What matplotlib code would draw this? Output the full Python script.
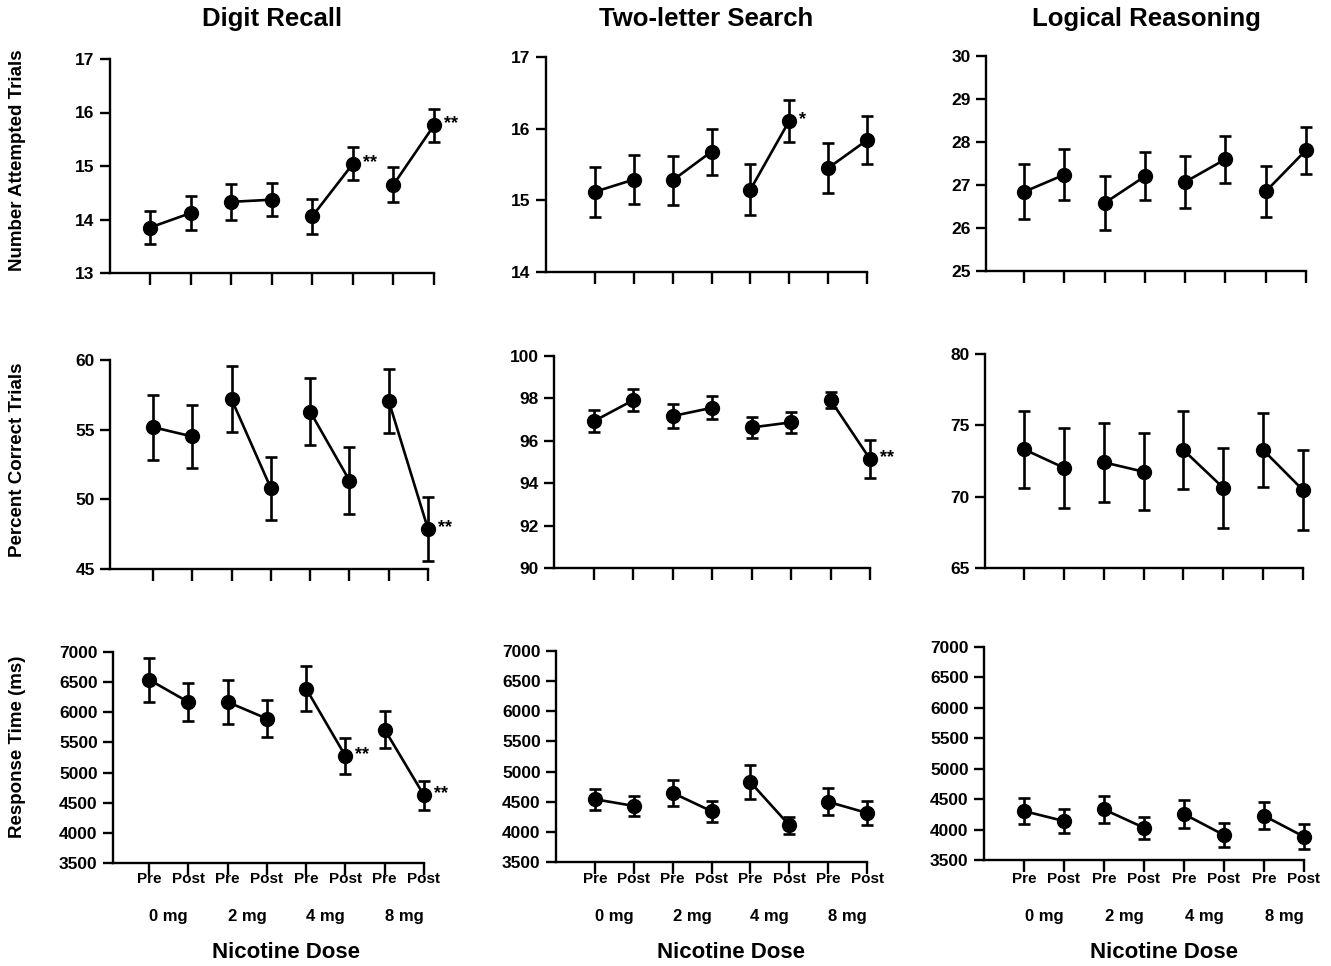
import matplotlib
matplotlib.use("Agg")
import matplotlib.pyplot as plt
from matplotlib.transforms import blended_transform_factory

plt.rcParams['font.family'] = ['Liberation Sans', 'DejaVu Sans']
plt.rcParams['font.weight'] = 'bold'

# ---------------- data ----------------
tasks = ['Digit Recall', 'Two-letter Search', 'Logical Reasoning']
measures = ['Number Attempted Trials', 'Percent Correct Trials', 'Response Time (ms)']
phases = ['Pre', 'Post', 'Pre', 'Post', 'Pre', 'Post', 'Pre', 'Post']
doses = ['0 mg', '2 mg', '4 mg', '8 mg']

dr_att_mean = [13.85, 14.12, 14.33, 14.37, 14.06, 15.04, 14.65, 15.76]
dr_att_err = [0.31, 0.32, 0.33, 0.31, 0.33, 0.31, 0.33, 0.31]
dr_att_sig = ['', '', '', '', '', '**', '', '**']
tl_att_mean = [15.12, 15.29, 15.28, 15.68, 15.15, 16.11, 15.45, 15.84]
tl_att_err = [0.35, 0.34, 0.34, 0.32, 0.36, 0.29, 0.35, 0.33]
tl_att_sig = ['', '', '', '', '', '*', '', '']
lr_att_mean = [26.84, 27.24, 26.58, 27.20, 27.07, 27.60, 26.85, 27.81]
lr_att_err = [0.64, 0.60, 0.62, 0.56, 0.60, 0.55, 0.60, 0.55]
lr_att_sig = ['', '', '', '', '', '', '', '']

dr_pct_mean = [55.18, 54.51, 57.18, 50.80, 56.30, 51.35, 57.06, 47.87]
dr_pct_err = [2.33, 2.27, 2.37, 2.27, 2.42, 2.40, 2.27, 2.30]
dr_pct_sig = ['', '', '', '', '', '', '', '**']
tl_pct_mean = [96.93, 97.92, 97.17, 97.56, 96.63, 96.87, 97.92, 95.14]
tl_pct_err = [0.53, 0.50, 0.55, 0.55, 0.48, 0.50, 0.37, 0.88]
tl_pct_sig = ['', '', '', '', '', '', '', '**']
lr_pct_mean = [73.32, 72.03, 72.41, 71.75, 73.27, 70.62, 73.27, 70.46]
lr_pct_err = [2.70, 2.80, 2.75, 2.70, 2.75, 2.80, 2.60, 2.80]
lr_pct_sig = ['', '', '', '', '', '', '', '']

dr_rt_mean = [6541, 6171, 6171, 5894, 6392, 5275, 5712, 4622]
dr_rt_err = [367, 318, 367, 310, 373, 300, 312, 243]
dr_rt_sig = ['', '', '', '', '', '**', '', '**']
tl_rt_mean = [4541, 4430, 4646, 4342, 4824, 4110, 4498, 4314]
tl_rt_err = [175, 166, 213, 172, 282, 144, 222, 205]
tl_rt_sig = ['', '', '', '', '', '', '', '']
lr_rt_mean = [4304, 4140, 4331, 4030, 4255, 3910, 4227, 3883]
lr_rt_err = [210, 197, 216, 183, 227, 200, 222, 205]
lr_rt_sig = ['', '', '', '', '', '', '', '']

att_ticks = [[13, 14, 15, 16, 17], [14, 15, 16, 17], [25, 26, 27, 28, 29, 30]]
pct_ticks = [[45, 50, 55, 60], [90, 92, 94, 96, 98, 100], [65, 70, 75, 80]]
rt_ticks = [3500, 4000, 4500, 5000, 5500, 6000, 6500, 7000]

panels = [
    [(dr_att_mean, dr_att_err, dr_att_sig, att_ticks[0]),
     (tl_att_mean, tl_att_err, tl_att_sig, att_ticks[1]),
     (lr_att_mean, lr_att_err, lr_att_sig, att_ticks[2])],
    [(dr_pct_mean, dr_pct_err, dr_pct_sig, pct_ticks[0]),
     (tl_pct_mean, tl_pct_err, tl_pct_sig, pct_ticks[1]),
     (lr_pct_mean, lr_pct_err, lr_pct_sig, pct_ticks[2])],
    [(dr_rt_mean, dr_rt_err, dr_rt_sig, rt_ticks),
     (tl_rt_mean, tl_rt_err, tl_rt_sig, rt_ticks),
     (lr_rt_mean, lr_rt_err, lr_rt_sig, rt_ticks)],
]

# ---------------- layout (pixels) ----------------
W, H = 1331, 966
# left spine, first tick, last tick, top, bottom
boxes = [
    [(110, 150, 434, 59, 273), (546, 595, 867, 57, 272), (986, 1024, 1306, 56, 271)],
    [(110, 153, 428, 360, 569), (554, 594, 870, 356, 568), (985, 1024, 1303, 354, 568)],
    [(113, 149, 424, 652, 863), (556, 595, 867, 651, 862), (984, 1024, 1304, 647, 860)],
]

fig = plt.figure(figsize=(W / 100, H / 100), dpi=100)
xpos = list(range(1, 9))
lw = 1.9

for r in range(3):
    for c in range(3):
        L, f, last, T, B = boxes[r][c]
        ax = fig.add_axes([L / W, 1 - B / H, (last - L) / W, (B - T) / H])
        mean, err, sig, ticks = panels[r][c]
        spacing = (last - f) / 7.0
        x0 = 1 - (f - L) / spacing
        eb = ax.errorbar(xpos, mean, yerr=err, fmt='none', ecolor='black',
                         elinewidth=lw, capsize=4.3, capthick=lw, zorder=2)
        for art in eb.lines[1] + eb.lines[2]:
            art.set_clip_on(False)
        for i in range(0, 8, 2):
            ax.plot(xpos[i:i + 2], mean[i:i + 2], color='black', lw=lw,
                    zorder=3, clip_on=False)
        ax.plot(xpos, mean, 'o', color='black', markersize=10, zorder=4,
                clip_on=False)
        for i, s in enumerate(sig):
            if s:
                ax.annotate(s, (xpos[i], mean[i]), xytext=(7, 1),
                            textcoords='offset points', ha='left', va='center',
                            fontsize=13, fontweight='bold')
        ax.set_xlim(x0, 8)
        ax.set_ylim(ticks[0], ticks[-1])
        ax.set_yticks(ticks)
        ax.set_yticklabels([str(t) for t in ticks], fontsize=12.5, fontweight='bold')
        ax.set_xticks(xpos)
        ax.set_xticklabels([])
        for side in ['top', 'right']:
            ax.spines[side].set_visible(False)
        for side in ['left', 'bottom']:
            ax.spines[side].set_linewidth(1.7)
        ax.tick_params(axis='x', direction='out', length=8.5, width=1.7)
        ax.tick_params(axis='y', direction='out', length=7, width=1.7, pad=4)
        ax.patch.set_visible(False)

        if r == 0:
            fig.text((L + last) / 2 / W, 1 - 19 / H, tasks[c], ha='center',
                     va='center', fontsize=18.5, fontweight='bold')
        if r == 2:
            tr = blended_transform_factory(ax.transData, fig.transFigure)
            for i, p in enumerate(phases):
                ax.text(xpos[i], 1 - 879 / H, p, transform=tr, ha='center',
                        va='center', fontsize=11, fontweight='bold')
            for j, d in enumerate(doses):
                ax.text(xpos[2 * j] + 0.5, 1 - 916 / H, d, transform=tr,
                        ha='center', va='center', fontsize=12, fontweight='bold')
            ax.text(4.5, 1 - 953 / H, 'Nicotine Dose', transform=tr,
                    ha='center', va='center', fontsize=16, fontweight='bold')

label_y = [160, 460, 747]
for r in range(3):
    fig.text(18 / W, 1 - label_y[r] / H, measures[r], rotation=90,
             ha='center', va='center', fontsize=13.5, fontweight='bold')

fig.savefig('out.png', dpi=100)
